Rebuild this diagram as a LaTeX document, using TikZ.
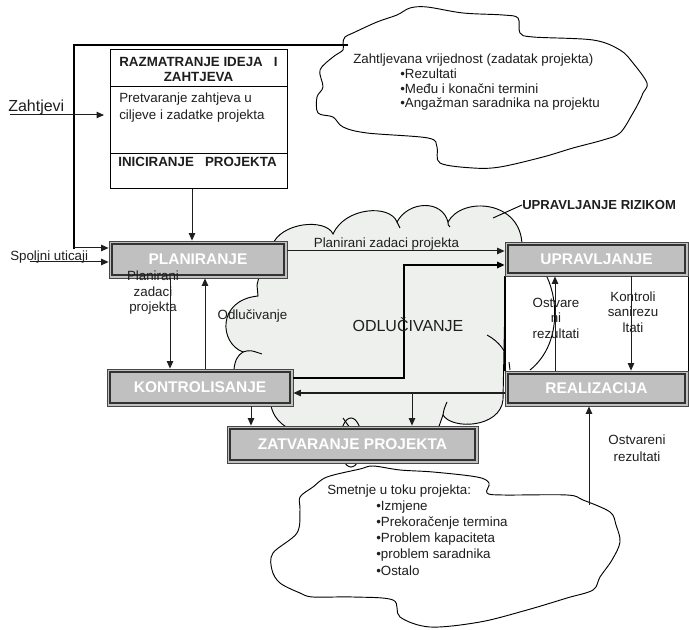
\documentclass[tikz,border=0pt]{standalone}
\usepackage{fontspec}
\setmainfont{Liberation Sans}
\usetikzlibrary{arrows.meta}
\definecolor{cloudgray}{RGB}{238,240,238}
\definecolor{boxgray}{RGB}{192,192,192}
\definecolor{edgegray}{RGB}{70,70,70}
\definecolor{ink}{RGB}{30,30,30}

\begin{document}
\begin{tikzpicture}[x=0.75pt,y=-0.75pt,
  arr/.style={-{Triangle[length=5.6pt,width=4.8pt]}, line width=0.75pt, draw=ink},
  thk/.style={line width=1.6pt, draw=black},
  outline/.style={line width=0.7pt, draw=black},
  lbl/.style={font=\fontsize{10}{11.6}\selectfont, align=center, inner sep=0pt, text=ink},
  ltxt/.style={font=\fontsize{10}{11.6}\selectfont, inner sep=0pt, text=ink, anchor=west},
  ttl/.style={font=\fontsize{10}{11.25}\selectfont\bfseries, align=center, inner sep=0pt, text=ink},
  plainbox/.style={draw=black, line width=0.9pt, inner sep=0pt, anchor=north west, minimum width=132.75pt},
  gbox/.style={rectangle, fill=boxgray, draw=edgegray, line width=0.6pt, inner sep=0pt,
     font=\fontsize{11.6}{13}\selectfont\bfseries, text=white,
     path picture={\draw[line width=1.1pt, black!80]
       ([shift={(2.4pt,2.4pt)}]path picture bounding box.south west) rectangle
       ([shift={(-2.4pt,-2.4pt)}]path picture bounding box.north east);}},
]
\useasboundingbox (0,0) rectangle (689,630);

% --- decision cloud (ODLUCIVANJE) ---
\path[fill=cloudgray, outline]
  (272,246) .. controls (280,222) and (326,218) .. (333,234)
  .. controls (345,207) and (390,204) .. (397,222)
  .. controls (408,201) and (442,199) .. (448,222)
  .. controls (462,196) and (522,200) .. (522,246)
  -- (508,272) -- (505,300) -- (503,400)
  .. controls (500,428) and (452,430) .. (443,415)
  -- (437,432) -- (296,432)
  .. controls (282,426) and (271,418) .. (270,398)
  -- (236,385) -- (234,369)
  .. controls (235,360) and (238,355) .. (243,352)
  .. controls (219,343) and (217,300) .. (258,296)
  -- (257,285) -- (262,265) -- cycle;
% inner ends of the cloud bumps
\draw[outline] (443,415) .. controls (444,409) .. (447,402);
\draw[outline] (243,352) .. controls (250,350) .. (262,354);
\draw[outline] (397,222) .. controls (398,225) .. (400,228);
\draw[outline] (448,222) .. controls (448,225) .. (450,227);
\draw[outline] (487,335) .. controls (500,342) and (506,352) .. (509,362);
% small loop behind the closing box
\draw[outline] (351,442.5) ellipse [x radius=8.25pt, y radius=18.4pt];
\draw[outline] (343,418) -- (350,428);

% --- white band between UPRAVLJANJE and REALIZACIJA ---
\path[fill=white] (505,276) rectangle (688,371);
\draw[outline] (547,277) .. controls (558,300) and (561,345) .. (530,370);
\draw[outline] (509,362) -- (510,370);
\draw[thk] (505,276) -- (505,371);
\draw[line width=0.6pt] (688,276) -- (688,371);

% --- required value cloud ---
\draw[outline, fill=white] plot[smooth cycle, tension=0.55] coordinates {
  (343,43) (345,37) (353,33) (377,22) (397,15) (410,8) (427,7) (463,13)
  (503,15) (518,18) (520,33) (533,37) (593,40) (620,50) (633,63) (647,83)
  (643,93) (640,100) (633,113) (620,133) (603,140) (573,148) (543,157)
  (500,167) (473,168) (440,163) (437,147) (428,138) (367,133) (343,127)
  (333,117) (318,113) (317,97) (323,87) (320,70) (333,57) (343,50)};

% --- disturbances cloud ---
\draw[outline, fill=white] plot[smooth cycle, tension=0.55] coordinates {
  (373,466) (400,470) (433,472) (477,477) (489,483) (487,493) (503,495)
  (567,495) (583,500) (610,512) (616,525) (620,542) (612,560) (600,577)
  (593,590) (567,598) (527,610) (480,622) (430,627) (400,617) (393,600)
  (353,597) (313,597) (300,593) (280,583) (272,570) (273,553) (297,533)
  (300,510) (300,497) (313,487) (327,477) (360,469)};

% --- idea / initiation box ---
\node[plainbox, minimum height=27.75pt] (rtitle) at (110,49) {};
\node[plainbox, minimum height=50.25pt] (rbody) at (110,86) {};
\node[plainbox, minimum height=26.25pt] (rfoot) at (110,153) {};
\node[ttl] (traz) at (198.5,69.5) {RAZMATRANJE IDEJA\ \ \ I\\ZAHTJEVA};
\node[lbl, align=left, anchor=west, font=\fontsize{10}{12.75}\selectfont] (tbody) at (119,107.5)
  {Pretvaranje zahtjeva u\\ciljeve i zadatke projekta};
\node[ttl] (tini) at (197.5,162) {INICIRANJE\ \ \ PROJEKTA};

% --- process boxes ---
\node[gbox, minimum width=133.5pt, minimum height=27.75pt] (plan) at (198,259.5) {PLANIRANJE};
\node[gbox, minimum width=137.25pt, minimum height=25.5pt] (upr) at (596.5,259) {UPRAVLJANJE};
\node[gbox, minimum width=137.25pt, minimum height=26.25pt] (real) at (596.5,388.5) {REALIZACIJA};
\node[gbox, minimum width=139.5pt, minimum height=27.75pt] (kont) at (200,387.5) {KONTROLISANJE};
\node[gbox, minimum width=188.25pt, minimum height=27.75pt] (zat) at (352.5,444.5) {ZATVARANJE PROJEKTA};

% --- free connector ends ---
\coordinate (ztop) at (348,45);
\coordinate (zin) at (10,115);
\coordinate (spin) at (30,262);
\coordinate (smin) at (589,505);
\coordinate (rizc) at (493,218);

% --- connectors ---
\draw[arr] (192,0 |- rfoot.south) -- (192,0 |- plan.north);
\draw[thk] (ztop) -- (74,45) -- (74,248.6);
\draw[arr] (74,248) -- (plan.west |- 0,248);
\draw[arr, shorten >=4.5pt] (zin) -- (rbody.west |- zin);
\draw[arr] (spin) -- (plan.west |- spin);
\draw[arr] (plan.east |- 0,251) -- (upr.west |- 0,251);
\draw[thk, -{Triangle[length=5.6pt,width=4.8pt]}] (kont.east |- 0,378) -- (404,378) -- (404,265) -- (upr.west |- 0,265);
\draw[arr, line width=0.9pt] (real.west |- 0,393) -- (kont.east |- 0,393);
\draw[arr] (412,393) -- (412,0 |- zat.north);
\draw[arr] (251,0 |- kont.south) -- (251,0 |- zat.north);
\draw[arr] (170,0 |- plan.south) -- (170,0 |- kont.north);
\draw[arr] (205,0 |- kont.north) -- (205,0 |- plan.south);
\draw[arr] (631,0 |- upr.south) -- (631,0 |- real.north);
\draw[arr] (555,0 |- real.north) -- (555,0 |- upr.south);
\draw[arr] (smin) -- (589,0 |- real.south);

% --- labels ---
\node[anchor=base west, font=\fontsize{12}{14}\selectfont, inner sep=0pt, text=ink] (zlab) at (8,112) {Zahtjevi};
\node[anchor=base west, lbl] (splab) at (10,261) {Spoljni uticaji};
\node[lbl] (lpzp) at (386.5,244) {Planirani zadaci projekta};
\node[lbl] (lpz) at (153,293) {Planirani\\zadaci\\projekta};
\node[lbl] (lodl) at (252.5,316) {Odlučivanje};
\node[font=\fontsize{12}{14}\selectfont, inner sep=0pt, text=ink] (lodlbig) at (408,325) {ODLUČIVANJE};
\node[lbl] (lost) at (556,318) {Ostvare\\ni\\rezultati};
\node[lbl] (lkon) at (633,312) {Kontroli\\sanirezu\\ltati};
\node[lbl, font=\fontsize{10}{12.6}\selectfont] (lostr) at (637,448.5) {Ostvareni\\rezultati};
\node[anchor=west, font=\fontsize{9.8}{12}\selectfont\bfseries, inner sep=0pt, text=ink] (rizik) at (522,205) {UPRAVLJANJE RIZIKOM};
\draw[line width=0.7pt] (rizc) -- (rizik.west);

\node[ltxt] (zv0) at (353,60) {Zahtljevana vrijednost (zadatak projekta)};
\node[ltxt] (zv1) at (400,74) {•Rezultati};
\node[ltxt] (zv2) at (400,89) {•Među i konačni termini};
\node[ltxt] (zv3) at (400,104) {•Angažman saradnika na projektu};

\node[ltxt] (sm0) at (327,491) {Smetnje u toku projekta:};
\node[ltxt] (sm1) at (376,507) {•Izmjene};
\node[ltxt] (sm2) at (376,523) {•Prekoračenje termina};
\node[ltxt] (sm3) at (376,539) {•Problem kapaciteta};
\node[ltxt] (sm4) at (376,555) {•problem saradnika};
\node[ltxt] (sm5) at (376,571) {•Ostalo};
\end{tikzpicture}
\end{document}
